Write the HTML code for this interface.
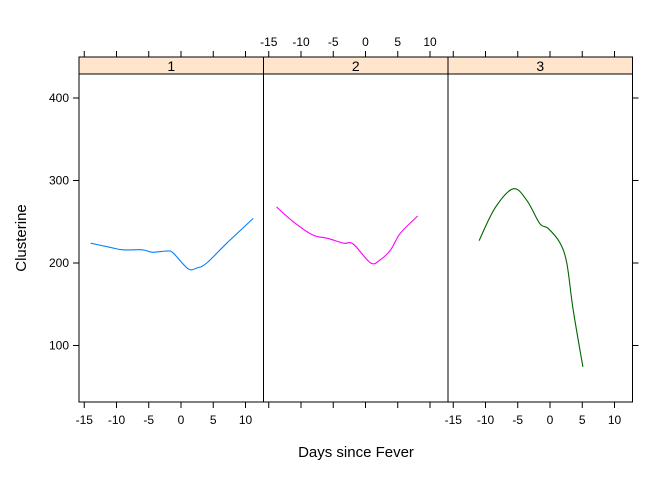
<!DOCTYPE html>
<html><head><meta charset="utf-8"><style>
body{margin:0;background:#fff}
svg{display:block;font-family:"Liberation Sans",Arial,sans-serif}
</style></head><body>
<svg id="chart" width="672" height="480"></svg>
<script>
const panelLabels=["1","2","3"];
const xTicks=[-15,-10,-5,0,5,10];
const yTicks=[100,200,300,400];
const s1x=[-14,-11,-9,-6,-4.4,-2.2,-1.2,1.1,2.5,4,7.1,11.2];
const s1y=[224,219,216,216,213,214.5,212,193,194,200,224,254];
const s2x=[-13.8,-11.2,-8.2,-5.9,-3.4,-1.9,0.8,2.3,3.9,5.4,8.1];
const s2y=[268,250,234,230,224,223,200,204,216,236,257];
const s3x=[-11,-8.5,-5.7,-3.6,-1.6,-0.3,1.5,2.6,3.6,5.1];
const s3y=[227,267,290,276,248,242,225,200,143,74];
const seriesX=[s1x,s2x,s3x], seriesY=[s1y,s2y,s3y];
const colors=["#0080ff","#ff00ff","#006400"];
const NS="http://www.w3.org/2000/svg";
const svgEl=document.getElementById('chart');
const pL=[79,263.5,448], pW=184.5, pTop=74, pBot=402, stripTop=57;
function xs(p,v){return pL[p]+102+v*6.45;}
function ys(v){return 263-(v-200)*0.825;}
function add(tag,attrs,txt){const e=document.createElementNS(NS,tag);for(const k in attrs)e.setAttribute(k,attrs[k]);if(txt!==undefined)e.textContent=txt;svgEl.appendChild(e);return e;}
function smoothPath(P){
  let d='M'+P[0][0].toFixed(1)+','+P[0][1].toFixed(1);
  for(let i=0;i<P.length-1;i++){
    const p0=P[i-1]||P[i],p1=P[i],p2=P[i+1],p3=P[i+2]||P[i+1];
    const c1=[p1[0]+(p2[0]-p0[0])/6,p1[1]+(p2[1]-p0[1])/6];
    const c2=[p2[0]-(p3[0]-p1[0])/6,p2[1]-(p3[1]-p1[1])/6];
    d+=' C'+c1.map(v=>v.toFixed(1)).join(',')+' '+c2.map(v=>v.toFixed(1)).join(',')+' '+p2[0].toFixed(1)+','+p2[1].toFixed(1);
  }
  return d;
}
for(let p=0;p<3;p++){
  const st=add('rect',{x:pL[p],y:stripTop,width:pW,height:pTop-stripTop,fill:'#ffe5cc',stroke:'#000','stroke-width':1});
  
  
  const stt=add('text',{x:pL[p]+pW/2,y:71,'text-anchor':'middle','font-size':14},panelLabels[p]);
  
  
  const fr=add('rect',{x:pL[p],y:pTop,width:pW,height:pBot-pTop,fill:'none',stroke:'#000','stroke-width':1});
  
  
  xTicks.forEach(t=>{
    const x=xs(p,t);
    const tb=add('line',{x1:x,x2:x,y1:pBot,y2:pBot+6,stroke:'#000'});
    
    
    const tt=add('line',{x1:x,x2:x,y1:stripTop,y2:stripTop-6,stroke:'#000'});
    
    
    if(p!==1){const l=add('text',{x:x,y:pBot+22,'text-anchor':'middle','font-size':12},t);
      
      }
    else{const l=add('text',{x:x,y:stripTop-11,'text-anchor':'middle','font-size':12},t);
      
      }
  });
  const P=seriesX[p].map((v,i)=>[xs(p,v),ys(seriesY[p][i])]);
  const pl=add('path',{d:smoothPath(P),fill:'none',stroke:colors[p],'stroke-width':1.1,'stroke-linejoin':'round'});
  
  
}
yTicks.forEach(t=>{
  const y=ys(t);
  const a=add('line',{x1:pL[0],x2:pL[0]-6,y1:y,y2:y,stroke:'#000'});
  
  
  const b=add('line',{x1:pL[2]+pW,x2:pL[2]+pW+6,y1:y,y2:y,stroke:'#000'});
  
  
  const l=add('text',{x:pL[0]-10,y:y+4,'text-anchor':'end','font-size':12},t);
  
  
});
const xt=add('text',{x:356,y:457,'text-anchor':'middle','font-size':15},'Days since Fever');


const yt=add('text',{x:26,y:238,'text-anchor':'middle','font-size':15,transform:'rotate(-90 26 238)'},'Clusterine');


</script>
</body></html>
